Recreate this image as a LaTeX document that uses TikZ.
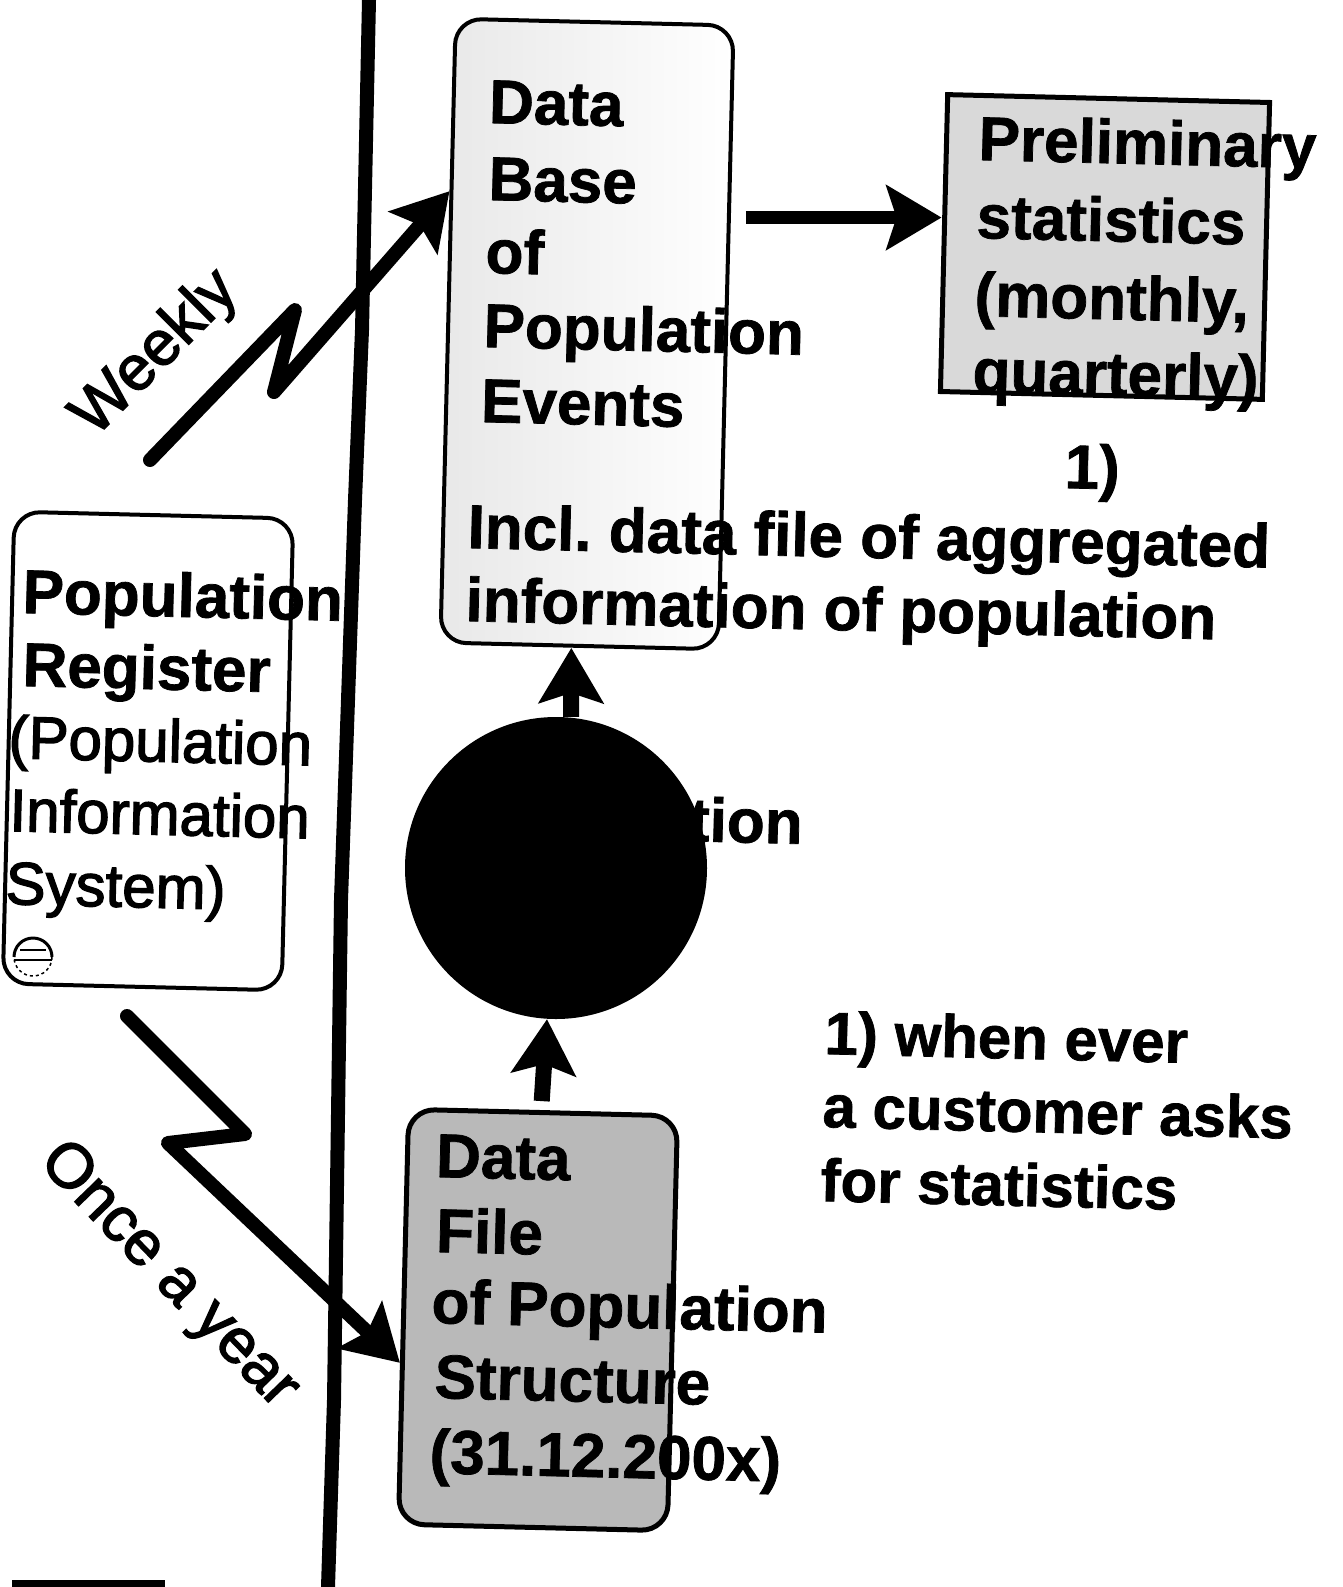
\documentclass[tikz,border=0pt]{standalone}
\usepackage{fontspec}
\setmainfont{Liberation Sans}[BoldFeatures={FakeBold=1.2}]
\newfontfamily\medfont[FakeBold=2.2]{Liberation Sans}
\usetikzlibrary{arrows.meta,calc}

\begin{document}
\begin{tikzpicture}[x=1pt, y=-1pt,
        box/.style={draw, line width=4pt, rounded corners=26pt, rotate=-1.4, inner sep=0pt},
        txt/.style={anchor=base west, inner sep=0pt, rotate=-1.4, font=\fontsize{62}{75}\selectfont\bfseries},
        medtxt/.style={txt, font=\fontsize{60}{72}\selectfont\medfont},
        notetxt/.style={txt, font=\fontsize{60}{72}\selectfont\bfseries},
        slanttxt/.style={inner sep=0pt, font=\fontsize{63}{75}\selectfont\medfont},
        flow/.style={-{Stealth[length=55pt, width=64pt, inset=10pt]}, line width=16pt},
        bolt/.style={flow, line width=14pt, line cap=round, line join=round}
    ]
        \useasboundingbox (0,0) rectangle (1343,1587);
        \fill[white] (0,0) rectangle (1343,1587);

        \node[box, fill=white, minimum width=279pt, minimum height=472pt] (reg) at (148,751) {};
        \node[box, left color=gray!18, middle color=gray!35, right color=white, minimum width=278pt, minimum height=624pt] (db) at (587,334) {};
        \node[box, sharp corners, line width=5pt, fill=gray!30, minimum width=322pt, minimum height=297pt] (pre) at (1105,247) {};
        \node[box, line width=5pt, fill=gray!55, minimum width=269pt, minimum height=415pt] (df) at (538,1320) {};
        \node[circle, fill=black, minimum size=302pt, inner sep=0pt] (agg) at (556,868) {};

        \draw[line width=14pt] (369,0) -- (362,330) -- (355,500) -- (341,900) -- (334,1400) -- (328,1587);

        \foreach \x/\y/\t [count=\i] in {488.5/123/Data, 488/200/Base, 485/273/of, 483/347/Population, 480.5/422/Events}
            \node[txt] (dbl\i) at (\x,\y) {\t};
        \node[txt] (mark) at (1064,488) {1)};
        \node[txt] (incl1) at (467,548) {Incl.\ data file of aggregated};
        \node[txt] (incl2) at (465,621) {information of population};

        \foreach \x/\y/\t [count=\i] in {978/160/Preliminary, 976/238/statistics, 974/316/{(monthly,}, 972/392/{quarterly)}}
            \node[txt] (prel\i) at (\x,\y) {\t};

        \node[txt] (regl1) at (22,613) {Population};
        \node[txt] (regl2) at (22,686) {Register};
        \foreach \x/\y/\t [count=\i] in {8/758/(Population, 9/831/Information, 5/904/System)}
            \node[medtxt] (regm\i) at (\x,\y) {\t};

        \foreach \x/\y/\t [count=\i] in {435.5/1177/Data, 435.5/1252/File, 431/1323/of Population, 434/1398/Structure, 429/1473/(31.12.200x)}
            \node[txt] (dfl\i) at (\x,\y) {\t};

        \foreach \x/\y/\t [count=\i] in {824/1054/1) when ever, 822/1127/a customer asks, 820/1201/for statistics}
            \node[notetxt] (note\i) at (\x,\y) {\t};

        \node[txt] (aggl) at (437,835) {Aggregation};

        \node[slanttxt, rotate=45] (weekly) at (156,354) {Weekly};
        \node[slanttxt, rotate=-46] (yearly) at (168,1276) {Once a year};

        \draw[line width=3pt] (14,957) arc[start angle=180, end angle=360, radius=19];
        \draw[line width=1.5pt, dashed] (52,957) arc[start angle=0, end angle=180, radius=19];
        \draw[line width=2.5pt] (14,960) -- (52,960);
        \draw[line width=1.5pt] (20,950) -- (46,950);
        \fill (12,1580) rectangle (165,1587);

        \coordinate (wkfrom) at (150,460);
        \coordinate (oyfrom) at (127,1016);
        \coordinate (dbout) at ($(db.north east)!0.309!(db.south east)$);

        \draw[bolt] (wkfrom) -- (295,310) -- (274,392) -- ($(db.north west)!0.278!(db.south west)$);
        \draw[bolt] (oyfrom) -- (245,1134) -- (168,1143) -- ($(df.north west)!0.61!(df.south west)$);
        \draw[flow, line width=13pt, shorten <=15pt] (dbout) -- (dbout -| pre.west);
        \draw[flow] ([xshift=15pt]agg.north) -- ([xshift=-8pt]db.south);
        \draw[flow, shorten <=9pt] ([xshift=-2pt]df.north) -- ([xshift=-9pt]agg.south);
    \end{tikzpicture}
\end{document}
